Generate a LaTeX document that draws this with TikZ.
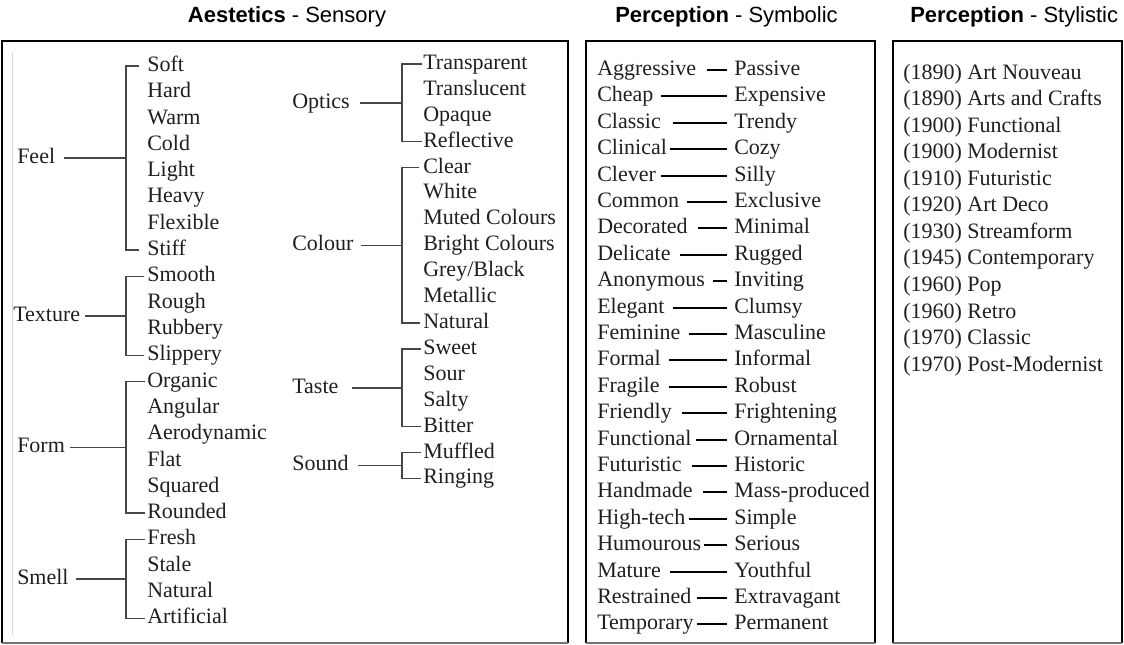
\documentclass[tikz,border=0pt]{standalone}
\usepackage{fontspec}
\setmainfont{Liberation Serif}
\newfontfamily\hdfont{Liberation Sans}
\begin{document}
\begin{tikzpicture}[x=0.75pt,y=-0.75pt,
  item/.style={font=\fontsize{16.5}{20}\selectfont, inner sep=0pt, anchor=west, text height=11.25pt, text depth=3pt, text=black!88},
  hdr/.style={font=\hdfont\fontsize{16.5}{20}\selectfont, inner sep=0pt, anchor=base west, text=black},
  brk/.style={draw=black!72, line width=1.15pt},
  pair/.style={draw=black, line width=1.5pt, shorten >=7*0.75pt},
  frame/.style={draw=black, line width=1.4pt},
  frameb/.style={draw=black!55, line width=0.8pt}]
\useasboundingbox (0,0) rectangle (1124,645);
\clip (0,0) rectangle (1124,645);

% frames
\draw[frame] (2,643) -- (2,41) -- (568,41) -- (568,643);
\draw[frameb] (2,643) -- (568,643);
\draw[frame] (586,643) -- (586,41) -- (875,41) -- (875,643);
\draw[frameb] (586,643) -- (875,643);
\draw[frame] (893,643) -- (893,41) -- (1122,41) -- (1122,643);
\draw[frameb] (893,643) -- (1122,643);
\draw[black!15, line width=0.6pt] (12,52) -- (12,635);

% headers
\node[hdr, anchor=base] (h1) at (287,23) {\textbf{Aestetics} - Sensory};
\node[hdr] (h2) at (615,23) {\textbf{Perception} - Symbolic};
\node[hdr] (h3) at (910,23) {\textbf{Perception} - Stylistic};

% left column items
\foreach \t [count=\i from 0] in {Soft,Hard,Warm,Cold,Light,Heavy,Flexible,Stiff,Smooth,Rough,Rubbery,Slippery,Organic,Angular,Aerodynamic,Flat,Squared,Rounded,Fresh,Stale,Natural,Artificial}
  \node[item] (L\i) at (147,{66+26.3*\i}) {\t};

\node[item] (feel) at (17,158.05) {Feel};
\coordinate (bfeel) at (126,158.05);
\draw[brk, shorten <=9*0.75pt] (feel.east) -- (bfeel);
\draw[brk, shorten <=8*0.75pt, shorten >=8*0.75pt] (L0.west) -| (bfeel) |- (L7.west);

\node[item] (texture) at (13,315.85) {Texture};
\coordinate (btex) at (126,315.85);
\draw[brk, shorten <=5*0.75pt] (texture.east) -- (btex);
\draw[brk, shorten <=3*0.75pt, shorten >=3*0.75pt] (L8.west) -| (btex) |- (L11.west);

\node[item] (form) at (17,447.35) {Form};
\coordinate (bform) at (126,447.35);
\draw[brk, shorten <=5*0.75pt] (form.east) -- (bform);
\draw[brk, shorten <=2*0.75pt, shorten >=2*0.75pt] (L12.west) -| (bform) |- (L17.west);

\node[item] (smell) at (17,578.85) {Smell};
\coordinate (bsmell) at (126,578.85);
\draw[brk, shorten <=7*0.75pt] (smell.east) -- (bsmell);
\draw[brk, shorten <=2*0.75pt, shorten >=2*0.75pt] (L18.west) -| (bsmell) |- (L21.west);

% second column items
\foreach \t [count=\j from 0] in {Transparent,Translucent,Opaque,Reflective,Clear,White,Muted Colours,Bright Colours,{Grey/Black},Metallic,Natural,Sweet,Sour,Salty,Bitter,Muffled,Ringing}
  \node[item] (R\j) at (423,{64+25.9*\j}) {\t};

\node[item] (optics) at (292,102.85) {Optics};
\coordinate (bopt) at (402,102.85);
\draw[brk, shorten <=10*0.75pt] (optics.east) -- (bopt);
\draw[brk, shorten <=1.5*0.75pt, shorten >=1.5*0.75pt] (R0.west) -| (bopt) |- (R3.west);

\node[item] (colour) at (292,245.3) {Colour};
\coordinate (bcol) at (402,245.3);
\draw[brk, shorten <=7*0.75pt] (colour.east) -- (bcol);
\draw[brk, shorten <=4*0.75pt, shorten >=3*0.75pt] (R4.west) -| (bcol) |- (R10.west);

\node[item] (taste) at (292,387.75) {Taste};
\coordinate (btaste) at (402,387.75);
\draw[brk, shorten <=13*0.75pt] (taste.east) -- (btaste);
\draw[brk, shorten <=2*0.75pt, shorten >=2*0.75pt] (R11.west) -| (btaste) |- (R14.west);

\node[item] (sound) at (292,465.45) {Sound};
\coordinate (bsound) at (402,465.45);
\draw[brk, shorten <=9*0.75pt] (sound.east) -- (bsound);
\draw[brk, shorten <=2*0.75pt, shorten >=2*0.75pt] (R15.west) -| (bsound) |- (R16.west);

% middle panel: opposites
\foreach \l/\r/\g [count=\k from 0] in {Aggressive/Passive/10,Cheap/Expensive/7,Classic/Trendy/12,Clinical/Cozy/3,Clever/Silly/5,Common/Exclusive/8,Decorated/Minimal/10,Delicate/Rugged/9,Anonymous/Inviting/8,Elegant/Clumsy/8,Feminine/Masculine/8,Formal/Informal/8,Fragile/Robust/9,Friendly/Frightening/10,Functional/Ornamental/4,Futuristic/Historic/10,Handmade/Mass-produced/10,High-tech/Simple/3,Humourous/Serious/3,Mature/Youthful/9,Restrained/Extravagant/5,Temporary/Permanent/3}
{
  \node[item] (pl\k) at (597,{70+26.4*\k}) {\l};
  \node[item] (pr\k) at (734,{70+26.4*\k}) {\r};
  \draw[pair, shorten <=\g*0.75pt] (pl\k.east) -- (pr\k.west);
}

% right panel: styles
\foreach \t [count=\m from 0] in {{(1890) Art Nouveau},{(1890) Arts and Crafts},{(1900) Functional},{(1900) Modernist},{(1910) Futuristic},{(1920) Art Deco},{(1930) Streamform},{(1945) Contemporary},{(1960) Pop},{(1960) Retro},{(1970) Classic},{(1970) Post-Modernist}}
  \node[item] (s\m) at (903,{74+26.5*\m}) {\t};
\end{tikzpicture}
\end{document}
